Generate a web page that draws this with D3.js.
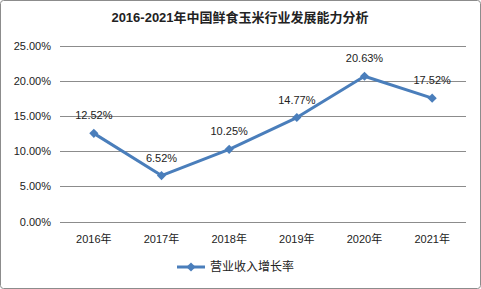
<!DOCTYPE html>
<html lang="zh">
<head>
<meta charset="utf-8">
<title>鲜食玉米行业发展能力分析</title>
<script src="https://cdn.jsdelivr.net/npm/d3@7"></script>
<style>
  body { margin: 0; background: #fff; }
  text { font-family: "Liberation Sans", "Noto Sans CJK SC", sans-serif; }
</style>
</head>
<body>
<svg id="chart" width="481" height="289"></svg>
<script>
// data
var years = ["2016年", "2017年", "2018年", "2019年", "2020年", "2021年"];
var growth = [12.52, 6.52, 10.25, 14.77, 20.63, 17.52];
var yTicks = [0, 5, 10, 15, 20, 25];
var seriesName = "营业收入增长率";
var title = "2016-2021年中国鲜食玉米行业发展能力分析";

var svg = d3.select("#chart");
var color = "#4a7ebb";

// outer border
svg.append("rect")
  .attr("x", 0.5).attr("y", 0.5)
  .attr("width", 480).attr("height", 288)
  .attr("rx", 3)
  .attr("fill", "#fff")
  .attr("stroke", "#8c8c8c");

svg.append("text")
  .attr("x", 240).attr("y", 22)
  .attr("text-anchor", "middle")
  .attr("font-size", 13)
  .attr("font-weight", "bold")
  .attr("fill", "#222")
  .text(title);

var x = d3.scaleBand().domain(years).range([60, 466]);
var y = d3.scaleLinear().domain([0, 25]).range([221.5, 45.5]);

// gridlines
svg.selectAll(".grid")
  .data(yTicks)
  .enter()
  .append("line")
  .attr("x1", 60).attr("x2", 466)
  .attr("y1", function(d) { return Math.round(y(d)) + 0.5; })
  .attr("y2", function(d) { return Math.round(y(d)) + 0.5; })
  .attr("stroke", "#8c8c8c")
  .attr("stroke-width", 1);

// y labels
svg.selectAll(".ylab")
  .data(yTicks)
  .enter()
  .append("text")
  .attr("x", 51)
  .attr("y", function(d) { return y(d) + 4; })
  .attr("text-anchor", "end")
  .attr("font-size", 11)
  .attr("fill", "#222")
  .text(function(d) { return d.toFixed(2) + "%"; });

// x labels
svg.selectAll(".xlab")
  .data(years)
  .enter()
  .append("text")
  .attr("x", function(d) { return x(d) + x.bandwidth() / 2; })
  .attr("y", 243)
  .attr("text-anchor", "middle")
  .attr("font-size", 11)
  .attr("fill", "#222")
  .text(function(d) { return d; });

var pts = years.map(function(d, i) { return { year: d, v: growth[i] }; });

var line = d3.line()
  .x(function(d) { return x(d.year) + x.bandwidth() / 2; })
  .y(function(d) { return y(d.v); });

svg.append("path")
  .datum(pts)
  .attr("d", line)
  .attr("fill", "none")
  .attr("stroke", color)
  .attr("stroke-width", 3)
  .attr("stroke-linejoin", "round");

// square rotated 45 degrees, like the office-style diamond marker
var marker = d3.symbol().type(d3.symbolSquare).size(42);

svg.selectAll(".pt")
  .data(pts)
  .enter()
  .append("path")
  .attr("d", marker)
  .attr("transform", function(d) {
    return "translate(" + (x(d.year) + x.bandwidth() / 2) + "," + y(d.v) + ") rotate(45)";
  })
  .attr("fill", color);

// data labels
svg.selectAll(".dlab")
  .data(pts)
  .enter()
  .append("text")
  .attr("x", function(d) { return x(d.year) + x.bandwidth() / 2; })
  .attr("y", function(d) { return y(d.v) - 14; })
  .attr("text-anchor", "middle")
  .attr("font-size", 11)
  .attr("fill", "#222")
  .text(function(d) { return d.v.toFixed(2) + "%"; });

// legend
svg.append("line")
  .attr("x1", 177).attr("x2", 205)
  .attr("y1", 267).attr("y2", 267)
  .attr("stroke", color)
  .attr("stroke-width", 3);
svg.append("path")
  .attr("d", marker)
  .attr("transform", "translate(191,267) rotate(45)")
  .attr("fill", color);
svg.append("text")
  .attr("x", 210).attr("y", 271)
  .attr("font-size", 12)
  .attr("fill", "#222")
  .text(seriesName);
</script>
</body>
</html>
